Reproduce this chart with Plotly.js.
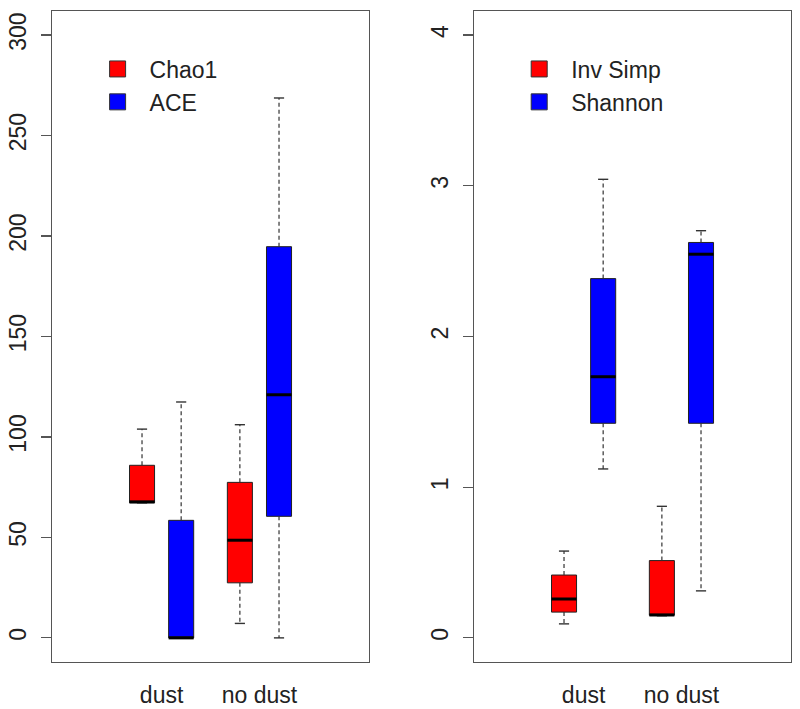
<!DOCTYPE html>
<html>
<head>
<meta charset="utf-8">
<script src="https://cdn.plot.ly/plotly-3.0.1.min.js"></script>
<style>html,body{margin:0;padding:0;background:#fff;}#chart{width:800px;height:709px;}</style>
</head>
<body>
<div id="chart"></div>
<script>
// ---- data ----
const groups = ['dust', 'no dust'];

// left panel: richness
const chao1Min = [67.2, 7.2];
const chao1Q1  = [67.2, 27.4];
const chao1Med = [67.7, 48.6];
const chao1Q3  = [85.9, 77.4];
const chao1Max = [103.9, 106.1];

const aceMin = [0, 0];
const aceQ1  = [0, 60.5];
const aceMed = [0, 121];
const aceQ3  = [58.5, 194.7];
const aceMax = [117.4, 268.7];

// right panel: diversity
const invSimpMin = [0.093, 0.147];
const invSimpQ1  = [0.171, 0.150];
const invSimpMed = [0.258, 0.152];
const invSimpQ3  = [0.417, 0.513];
const invSimpMax = [0.576, 0.873];

const shannonMin = [1.121, 0.312];
const shannonQ1  = [1.424, 1.424];
const shannonMed = [1.733, 2.546];
const shannonQ3  = [2.384, 2.624];
const shannonMax = [3.043, 2.702];

const leftTicks  = [0, 50, 100, 150, 200, 250, 300];
const rightTicks = [0, 1, 2, 3, 4];

// ---- styling / layout helpers ----
const FONT = 'Liberation Sans, Arial, sans-serif';
const RED = '#ff0000', BLUE = '#0000ff';
const BOXW = 0.64, CAPW = 0.26;
function pos(g, s) { return 1 + g * 2.5 + s; }   // box centre on the x axis
function groupCentre(g) { return pos(g, 0) + 0.5; }

const traces = [];

function addSeries(name, color, mins, q1, med, q3, maxs, s, xa, ya, legendId) {
  const xs = groups.map((_, g) => pos(g, s));
  traces.push({
    type: 'box', name: name, x: xs, q1: q1, median: med, q3: q3,
    lowerfence: q1, upperfence: q3, width: BOXW,
    fillcolor: color, line: {color: '#222', width: 1},
    whiskerwidth: 0, boxpoints: false, hoverinfo: 'skip',
    xaxis: xa, yaxis: ya, showlegend: false
  });
  // dashed whiskers, solid staples, thick medians
  const wx = [], wy = [], cx = [], cy = [], mx = [], my = [];
  xs.forEach((x, i) => {
    wx.push(x, x, null, x, x, null);
    wy.push(q3[i], maxs[i], null, q1[i], mins[i], null);
    cx.push(x - CAPW / 2, x + CAPW / 2, null, x - CAPW / 2, x + CAPW / 2, null);
    cy.push(maxs[i], maxs[i], null, mins[i], mins[i], null);
    mx.push(x - BOXW / 2, x + BOXW / 2, null);
    my.push(med[i], med[i], null);
  });
  traces.push({type: 'scatter', mode: 'lines', x: wx, y: wy, xaxis: xa, yaxis: ya,
    line: {color: '#333', width: 1.2, dash: '4px,3px'}, showlegend: false, hoverinfo: 'skip'});
  traces.push({type: 'scatter', mode: 'lines', x: cx, y: cy, xaxis: xa, yaxis: ya,
    line: {color: '#333', width: 1.4}, showlegend: false, hoverinfo: 'skip'});
  traces.push({type: 'scatter', mode: 'lines', x: mx, y: my, xaxis: xa, yaxis: ya,
    line: {color: '#000', width: 3}, showlegend: false, hoverinfo: 'skip'});
  // legend entry
  traces.push({type: 'scatter', mode: 'markers', x: [null], y: [null], xaxis: xa, yaxis: ya,
    name: name, legend: legendId, legendgroup: name,
    marker: {symbol: 'square', size: 18, color: color, line: {color: '#333', width: 1}}});
}

addSeries('Chao1', RED, chao1Min, chao1Q1, chao1Med, chao1Q3, chao1Max, 0, 'x', 'y', 'legend');
addSeries('ACE', BLUE, aceMin, aceQ1, aceMed, aceQ3, aceMax, 1, 'x', 'y', 'legend');
addSeries('Inv Simp', RED, invSimpMin, invSimpQ1, invSimpMed, invSimpQ3, invSimpMax, 0, 'x2', 'y2', 'legend2');
addSeries('Shannon', BLUE, shannonMin, shannonQ1, shannonMed, shannonQ3, shannonMax, 1, 'x2', 'y2', 'legend2');

const frame = {showline: true, mirror: true, linecolor: '#555', linewidth: 1.3,
  showgrid: false, zeroline: false};
const xCommon = Object.assign({}, frame, {
  range: [-1.3, 6.8], tickmode: 'array',
  tickvals: groups.map((_, g) => groupCentre(g)), ticktext: groups,
  ticks: '', ticklabelstandoff: 12, tickfont: {family: FONT, size: 23, color: '#222'}
});
const yCommon = Object.assign({}, frame, {
  tickmode: 'array', ticks: 'outside', ticklen: 10, tickwidth: 1.2, tickcolor: '#555',
  tickangle: -90, ticklabelstandoff: 6, tickfont: {family: FONT, size: 23, color: '#222'}
});
const legendCommon = {font: {family: FONT, size: 23, color: '#222'}, bgcolor: 'rgba(0,0,0,0)',
  xanchor: 'left', yanchor: 'top', itemwidth: 54, tracegroupgap: 0, traceorder: 'grouped',
  itemclick: false, itemdoubleclick: false};

const layout = {
  width: 800, height: 709, margin: {l: 0, r: 0, t: 0, b: 0},
  paper_bgcolor: '#fff', plot_bgcolor: '#fff', showlegend: true,
  xaxis: Object.assign({}, xCommon, {domain: [0.065, 0.4613], anchor: 'y'}),
  yaxis: Object.assign({}, yCommon, {domain: [0.0663, 0.9845], anchor: 'x',
    range: [-12, 312], tickvals: leftTicks, ticktext: leftTicks.map(String)}),
  xaxis2: Object.assign({}, xCommon, {domain: [0.5925, 0.9888], anchor: 'y2'}),
  yaxis2: Object.assign({}, yCommon, {domain: [0.0663, 0.9845], anchor: 'x2',
    range: [-0.16, 4.16], tickvals: rightTicks, ticktext: rightTicks.map(String)}),
  legend: Object.assign({}, legendCommon, {x: 0.107, y: 0.933}),
  legend2: Object.assign({}, legendCommon, {x: 0.634, y: 0.933})
};

Plotly.newPlot('chart', traces, layout, {staticPlot: true, displayModeBar: false});
</script>
</body>
</html>
